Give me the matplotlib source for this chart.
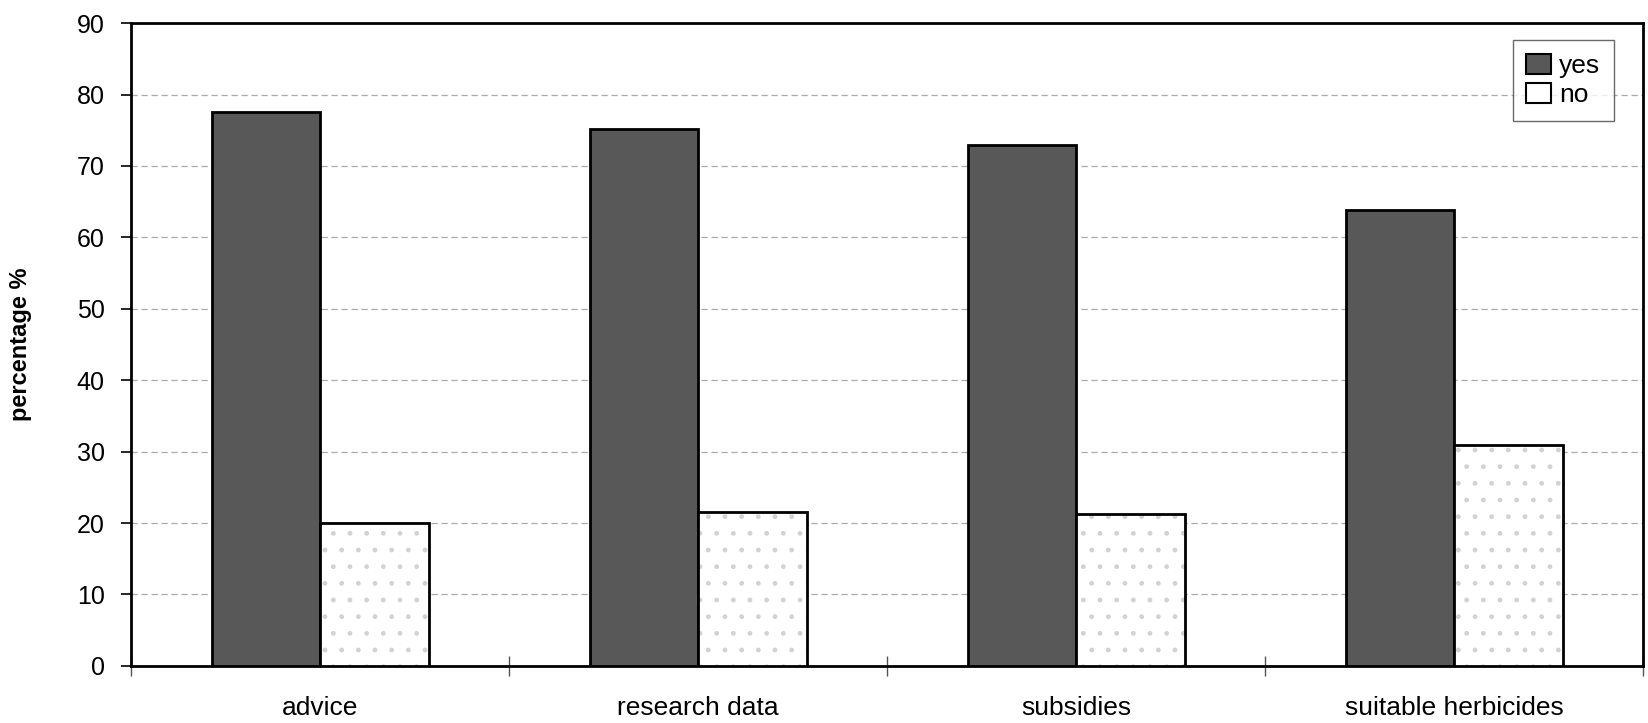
import matplotlib
matplotlib.use("Agg")
import matplotlib.pyplot as plt
import numpy as np
from matplotlib.patches import Patch

categories = ["advice", "research data", "subsidies", "suitable herbicides"]
yes_values = [77.5, 75.2, 72.9, 63.8]
no_values = [20.0, 21.6, 21.2, 30.9]
series_labels = ["yes", "no"]
y_ticks = [0, 10, 20, 30, 40, 50, 60, 70, 80, 90]

plt.rcParams['font.family'] = ['Liberation Sans', 'DejaVu Sans']

fig = plt.figure(figsize=(16.48, 7.23), dpi=100)
ax = fig.add_axes([0.0795, 0.079, 0.9175, 0.889])

x = np.arange(len(categories))
w = 0.287

ax.bar(x - w / 2, yes_values, width=w, color='#585858', edgecolor='black',
       linewidth=2, zorder=3, label=series_labels[0])
ax.bar(x + w / 2, no_values, width=w, color='white', edgecolor='#d2d2d2',
       hatch='.', linewidth=0, zorder=3)
ax.bar(x + w / 2, no_values, width=w, color='none', edgecolor='black',
       linewidth=2, zorder=4, label=series_labels[1])

ax.set_xlim(-0.5, len(categories) - 0.5)
ax.set_ylim(0, 90)
ax.set_yticks(y_ticks)
ax.set_yticklabels([str(t) for t in y_ticks], fontsize=18)
ax.set_xticks(np.arange(len(categories) + 1) - 0.5, minor=False)
ax.set_xticklabels([])
ax.set_xticks(x, minor=True)
ax.set_xticklabels(categories, minor=True, fontsize=19)
ax.tick_params(axis='x', which='minor', length=0, pad=22)
ax.tick_params(axis='x', which='major', direction='inout', length=14, width=1, color='#555555')
ax.tick_params(axis='y', direction='out', length=7, width=1.2, pad=12)

ax.yaxis.grid(True, linestyle=(0, (5, 3)), color='#aaaaaa', linewidth=0.9, zorder=0)
ax.set_axisbelow(True)

for s in ax.spines.values():
    s.set_linewidth(2)
    s.set_color('black')

ax.set_ylabel("percentage %", fontsize=17, fontweight='bold')
ax.yaxis.set_label_coords(-0.0655, 0.5)

handles = [Patch(facecolor='#585858', edgecolor='black', linewidth=1.5),
           Patch(facecolor='white', edgecolor='black', linewidth=1.5)]
leg = ax.legend(handles, series_labels, loc='upper right', bbox_to_anchor=(0.9805, 0.973),
                fontsize=19, frameon=True, fancybox=False, edgecolor='#444444',
                handlelength=0.95, handleheight=0.8, handletextpad=0.3,
                borderpad=0.5, labelspacing=0.2, borderaxespad=0.0)
leg.get_frame().set_linewidth(1.0)

fig.savefig("out.png", dpi=100)
